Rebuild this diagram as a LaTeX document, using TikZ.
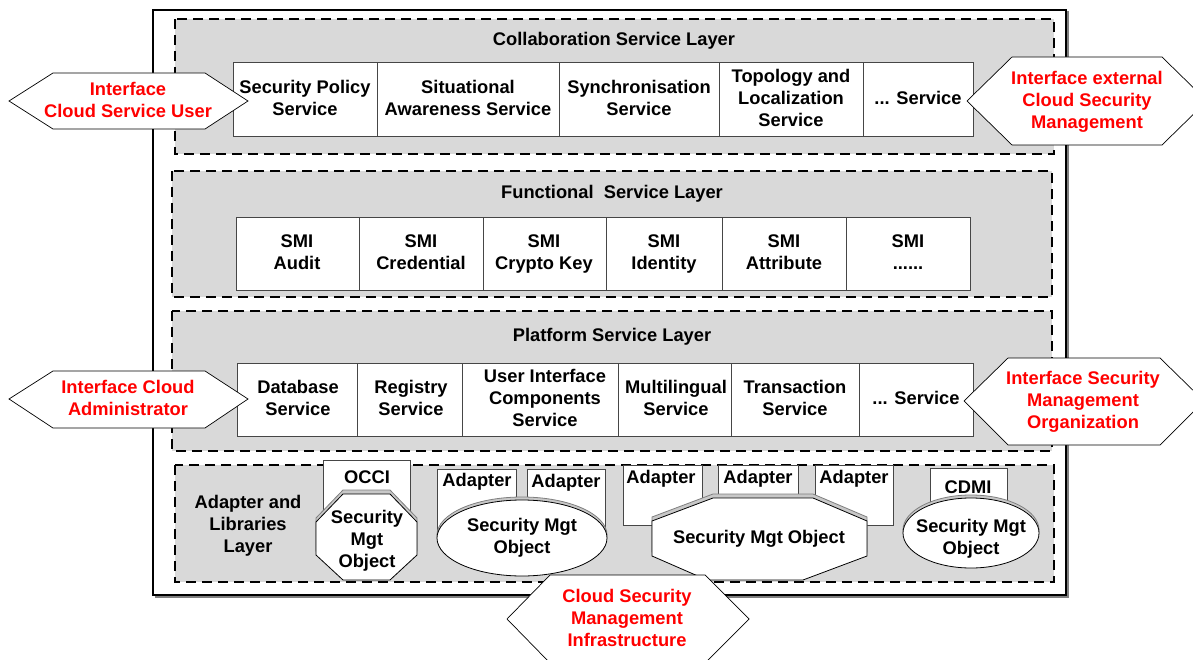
\documentclass[tikz,border=0pt]{standalone}
\usepackage{fontspec}
\setmainfont{Liberation Sans}
\usetikzlibrary{shapes.geometric}

\definecolor{layergray}{RGB}{217,217,217}
\definecolor{boxgray}{RGB}{70,70,70}
\definecolor{shadegray}{RGB}{200,200,200}

\begin{document}
\begin{tikzpicture}[x=1pt, y=-1pt,
  txt/.style={font=\fontsize{18.3}{22}\selectfont\bfseries, align=center, inner sep=0pt,
    execute at end node={\vphantom{y}}},
  redtxt/.style={txt, text=red},
  layer/.style={draw=black, line width=1.6pt, dash pattern=on 10pt off 6pt, fill=layergray},
  svcbox/.style={draw=boxgray, line width=0.9pt, fill=white},
  obj/.style={draw=black, line width=0.8pt, fill=white},
  objshade/.style={draw=gray, line width=0.8pt, fill=shadegray},
  iface/.style={draw=black, line width=0.7pt, fill=white}]
\useasboundingbox (0,0) rectangle (1193,660);

% outer frame
\draw[gray, fill=gray, line width=1pt] (155,12) rectangle (1068,597);
\draw[black, fill=white, line width=1.3pt] (153,10) rectangle (1066,595);

% collaboration layer
\draw[layer] (175,19) rectangle (1054,154);
\node[txt] (collab) at (614,41) {Collaboration Service Layer};
\draw[svcbox] (233,62) rectangle (377,136);
\draw[svcbox] (377,62) rectangle (559,136);
\draw[svcbox] (559,62) rectangle (719,136);
\draw[svcbox] (719,62) rectangle (863,136);
\draw[svcbox] (863,62) rectangle (973,136);
\node[txt] (secpol) at (305,100) {Security Policy\\Service};
\node[txt] (situ) at (468,100) {Situational\\Awareness Service};
\node[txt] (sync) at (639,100) {Synchronisation\\Service};
\node[txt] (topo) at (791,100) {Topology and\\Localization\\Service};
\node[txt] (moresvc) at (918,100) {... Service};

% functional layer
\draw[layer] (172,171) rectangle (1052,297);
\node[txt] (func) at (612,194) {Functional~ Service Layer};
\draw[svcbox] (236,217) rectangle (359,290);
\draw[svcbox] (359,217) rectangle (483,290);
\draw[svcbox] (483,217) rectangle (606,290);
\draw[svcbox] (606,217) rectangle (722,290);
\draw[svcbox] (722,217) rectangle (846,290);
\draw[svcbox] (846,217) rectangle (970,290);
\node[txt] (audit) at (297,254) {SMI\\Audit};
\node[txt] (cred) at (421,254) {SMI\\Credential};
\node[txt] (crypto) at (544,254) {SMI\\Crypto Key};
\node[txt] (ident) at (664,254) {SMI\\Identity};
\node[txt] (attr) at (784,254) {SMI\\Attribute};
\node[txt] (moresmi) at (908,254) {SMI\\......};

% platform layer
\draw[layer] (172,311) rectangle (1052,451);
\node[txt] (platform) at (612,337) {Platform Service Layer};
\draw[svcbox] (237,363) rectangle (357,436);
\draw[svcbox] (357,363) rectangle (462,436);
\draw[svcbox] (462,363) rectangle (618,436);
\draw[svcbox] (618,363) rectangle (731,436);
\draw[svcbox] (731,363) rectangle (859,436);
\draw[svcbox] (859,363) rectangle (973,436);
\node[txt] (db) at (298,400) {Database\\Service};
\node[txt] (reg) at (411,400) {Registry\\Service};
\node[txt] (ui) at (545,400) {User Interface\\Components\\Service};
\node[txt] (multi) at (676,400) {Multilingual\\Service};
\node[txt] (trans) at (795,400) {Transaction\\Service};
\node[txt] (moreplat) at (916,400) {... Service};

% adapter and libraries layer
\draw[layer] (175,465) rectangle (1054,582);
\node[txt] (adapt) at (248,526) {Adapter and\\Libraries\\Layer};

% OCCI
\draw[svcbox] (323,460) rectangle (410,530);
\node[txt] (occi) at (367,479) {OCCI};
\draw[objshade, yshift=4pt] (343,494) -- (390,494) -- (417,522) -- (417,555) -- (390,580) -- (343,580) -- (316,555) -- (316,522) -- cycle;
\draw[obj] (343,494) -- (390,494) -- (417,522) -- (417,555) -- (390,580) -- (343,580) -- (316,555) -- (316,522) -- cycle;
\node[txt] (occiobj) at (367,541) {Security\\Mgt\\Object};

% two adapters
\draw[svcbox] (437,469) rectangle (516,535);
\draw[svcbox] (527,469) rectangle (605,535);
\node[txt] (ad1) at (477,482) {Adapter};
\node[txt] (ad2) at (566,483) {Adapter};
\draw[objshade] (522,535) ellipse [x radius=85, y radius=38];
\draw[obj] (522,538) ellipse [x radius=85, y radius=38];
\node[txt] (adobj) at (522,538) {Security Mgt\\Object};

% three adapters
\draw[svcbox] (623,465) rectangle (702,525);
\draw[svcbox] (718,465) rectangle (798,495);
\draw[svcbox] (815,465) rectangle (893,525);
\node[txt] (ad3) at (661,479) {Adapter};
\node[txt] (ad4) at (758,479) {Adapter};
\node[txt] (ad5) at (854,479) {Adapter};
\draw[objshade, yshift=4pt] (713,498) -- (813,498) -- (867,521) -- (867,556) -- (803,580) -- (707,580) -- (652,556) -- (652,521) -- cycle;
\draw[obj] (713,498) -- (813,498) -- (867,521) -- (867,556) -- (803,580) -- (707,580) -- (652,556) -- (652,521) -- cycle;
\node[txt] (bigobj) at (759,539) {Security Mgt Object};

% CDMI
\draw[svcbox] (930,468) rectangle (1007,515);
\node[txt] (cdmi) at (968,489) {CDMI};
\draw[objshade] (971,530) ellipse [x radius=68, y radius=35];
\draw[obj] (971,533) ellipse [x radius=68, y radius=35];
\node[txt] (cdmiobj) at (971,539) {Security Mgt\\Object};

% interfaces
\draw[iface] (9,101) -- (53,73) -- (205,73) -- (248,101) -- (205,129) -- (53,129) -- cycle;
\node[redtxt] (user) at (128,102) {Interface\\Cloud Service User};
\draw[iface] (967,101) -- (1012,57) -- (1162,57) -- (1207,101) -- (1162,145) -- (1012,145) -- cycle;
\node[redtxt] (ext) at (1087,102) {Interface external\\Cloud Security\\Management};
\draw[iface] (9,399) -- (53,371) -- (205,371) -- (248,399) -- (205,428) -- (53,428) -- cycle;
\node[redtxt] (admin) at (128,400) {Interface Cloud\\Administrator};
\draw[iface] (964,401) -- (1008,358) -- (1160,358) -- (1204,401) -- (1160,445) -- (1008,445) -- cycle;
\node[redtxt] (org) at (1083,402) {Interface Security\\Management\\Organization};
\draw[iface] (507,619) -- (550,575) -- (705,575) -- (749,619) -- (705,663) -- (550,663) -- cycle;
\node[redtxt] (infra) at (627,620) {Cloud Security\\Management\\Infrastructure};
\end{tikzpicture}
\end{document}
